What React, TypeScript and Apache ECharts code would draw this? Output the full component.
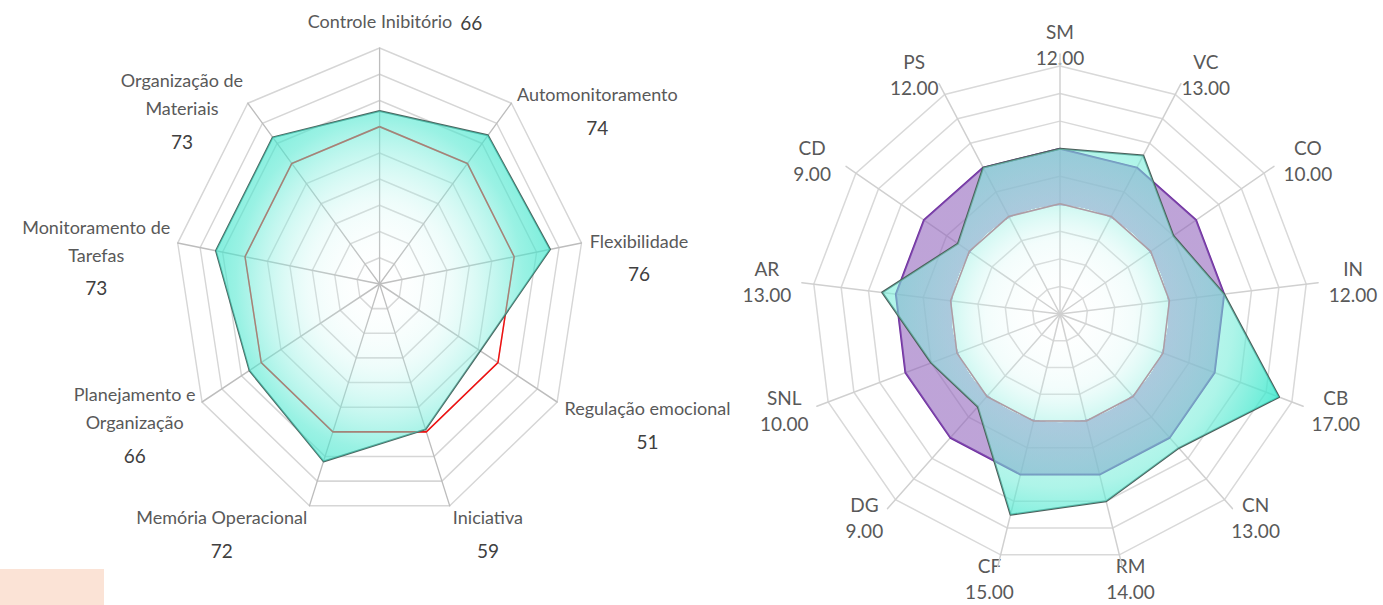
import React, { useEffect, useRef } from "react";
import * as echarts from "echarts";

// ---- Left chart: executive-function scales (T scores) ----
const efScales = [
  "Controle Inibitório",
  "Automonitoramento",
  "Flexibilidade",
  "Regulação emocional",
  "Iniciativa",
  "Memória Operacional",
  "Planejamento e\nOrganização",
  "Monitoramento de\nTarefas",
  "Organização de\nMateriais",
];
const efScores = [66, 74, 76, 51, 59, 72, 66, 73, 73];
const efCutoff = [60, 60, 60, 60, 60, 60, 60, 60, 60];
const efAxisMax = 90;
const efSplits = 9;

// ---- Right chart: subtest scaled scores ----
const subtests = ["SM", "VC", "CO", "IN", "CB", "CN", "RM", "CF", "DG", "SNL", "AR", "CD", "PS"];
const subtestScores = [12, 13, 10, 12, 17, 13, 14, 15, 9, 10, 13, 9, 12];
const upperLimit = [12, 12, 12, 12, 12, 12, 12, 12, 12, 12, 12, 12, 12];
const lowerLimit = [8, 8, 8, 8, 8, 8, 8, 8, 8, 8, 8, 8, 8];
const subtestAxisMax = 18;
const subtestSplits = 9;

// ---- layout ----
const PAGE_W = 1383;
const PAGE_H = 605;
const LEFT = { cx: 380, cy: 284, rx: 205, ry: 236 };
const RIGHT = { cx: 1060, cy: 314, r: 248, spoke: 260 };
const LEFT_W = 600; // width of the (horizontally scaled) left chart canvas
const LEFT_K = LEFT.rx / LEFT.ry;
const LEFT_X = LEFT.cx - (LEFT_K * LEFT_W) / 2;

const FONT = "Lato, 'Open Sans', sans-serif";
const NAME_COLOR = "#595959";
const VALUE_COLOR = "#404040";

// ECharts lays radar indicators out counter-clockwise; keep the first on top
// and reverse the rest so the order reads clockwise.
function clockwise<T>(arr: T[]): T[] {
  return [arr[0], ...arr.slice(1).reverse()];
}

let measureCtx: CanvasRenderingContext2D | null = null;
function textWidth(text: string, size: number): number {
  if (!measureCtx) measureCtx = document.createElement("canvas").getContext("2d");
  if (!measureCtx) return text.length * size * 0.5;
  measureCtx.font = `${size}px Lato`;
  return measureCtx.measureText(text).width;
}

function leftLabels(): any[] {
  const out: any[] = [];
  const n = efScales.length;
  const nameSize = 18;
  const valueSize = 19;
  efScales.forEach((name, i) => {
    const a = (i * 2 * Math.PI) / n;
    const s = Math.sin(a);
    const c = Math.cos(a);
    const ex = LEFT.cx + LEFT.rx * s;
    const ey = LEFT.cy - LEFT.ry * c;
    const lines = name.split("\n");
    const w = Math.max(...lines.map((l) => textWidth(l, nameSize)));
    const value = String(efScores[i]);
    if (Math.abs(s) < 1e-6) {
      out.push({
        type: "text",
        x: ex,
        y: ey - 27,
        style: { text: name, fontSize: nameSize, fontFamily: FONT, fill: NAME_COLOR, align: "center", verticalAlign: "middle" },
      });
      out.push({
        type: "text",
        x: ex + w / 2 + 8,
        y: ey - 26,
        style: { text: value, fontSize: valueSize, fontFamily: FONT, fill: VALUE_COLOR, align: "left", verticalAlign: "middle" },
      });
      return;
    }
    const dir = s > 0 ? 1 : -1;
    const bx = ex + dir * (8 * Math.abs(s) + w / 2);
    const ny = ey - 12 * c;
    out.push({
      type: "text",
      x: bx,
      y: ny,
      style: { text: name, fontSize: nameSize, fontFamily: FONT, fill: NAME_COLOR, align: "center", verticalAlign: "middle", lineHeight: 28 },
    });
    out.push({
      type: "text",
      x: bx,
      y: ny + (lines.length - 1) * 14 + 33,
      style: { text: value, fontSize: valueSize, fontFamily: FONT, fill: VALUE_COLOR, align: "center", verticalAlign: "middle" },
    });
  });
  return out;
}

function rightLabels(): any[] {
  const out: any[] = [];
  const n = subtests.length;
  subtests.forEach((name, i) => {
    const a = (i * 2 * Math.PI) / n;
    const s = Math.sin(a);
    const c = Math.cos(a);
    const reach = c > 0 ? 295 + 35 * (1 - Math.abs(s)) : 295;
    const lx = RIGHT.cx + reach * s;
    const ly = RIGHT.cy - c * (c > 0 ? 270 : 272);
    out.push({
      type: "text",
      x: lx,
      y: ly - 13,
      style: { text: name, fontSize: 19, fontFamily: FONT, fill: NAME_COLOR, align: "center", verticalAlign: "middle" },
    });
    out.push({
      type: "text",
      x: lx,
      y: ly + 13,
      style: { text: subtestScores[i].toFixed(2), fontSize: 19, fontFamily: FONT, fill: NAME_COLOR, align: "center", verticalAlign: "middle" },
    });
  });
  return out;
}

function leftOption(): any {
  const cx = LEFT_W / 2;
  const teal = new echarts.graphic.RadialGradient(
    cx,
    LEFT.cy,
    LEFT.ry,
    [
      { offset: 0, color: "rgba(255,255,255,0)" },
      { offset: 0.35, color: "rgba(190,245,238,0.25)" },
      { offset: 0.7, color: "rgba(80,232,208,0.58)" },
      { offset: 1, color: "rgba(50,228,200,0.8)" },
    ],
    true
  );
  return {
    animation: false,
    radar: {
      center: [cx, LEFT.cy],
      radius: LEFT.ry,
      startAngle: 90,
      shape: "polygon",
      splitNumber: efSplits,
      indicator: clockwise(efScales).map((name) => ({ name, min: 0, max: efAxisMax })),
      axisName: { show: false },
      axisTick: { show: false },
      axisLabel: { show: false },
      axisLine: { lineStyle: { color: "#BDBDBD", width: 1.5 } },
      splitLine: { lineStyle: { color: "#D6D6D6", width: 1.6 } },
      splitArea: { show: false },
    },
    series: [
      {
        type: "radar",
        symbol: "none",
        silent: true,
        data: [
          { name: "Corte", value: clockwise(efCutoff), lineStyle: { color: "#F01010", width: 1.7 } },
          {
            name: "Escore T",
            value: clockwise(efScores),
            lineStyle: { color: "#4A6660", width: 2 },
            areaStyle: { color: teal, opacity: 1 },
          },
        ],
      },
    ],
  };
}

function rightOption(): any {
  const { cx, cy, r } = RIGHT;
  const inner = (lowerLimit[0] / subtestAxisMax) * 0.985;
  const purple = new echarts.graphic.RadialGradient(
    cx,
    cy,
    r,
    [
      { offset: 0, color: "rgba(143,97,187,0)" },
      { offset: inner - 0.001, color: "rgba(143,97,187,0)" },
      { offset: inner, color: "rgba(143,97,187,0.58)" },
      { offset: 1, color: "rgba(143,97,187,0.58)" },
    ],
    true
  );
  const teal = new echarts.graphic.RadialGradient(
    cx,
    cy,
    r,
    [
      { offset: 0, color: "rgba(255,255,255,0)" },
      { offset: 0.3, color: "rgba(200,245,240,0.22)" },
      { offset: 0.45, color: "rgba(150,240,226,0.5)" },
      { offset: 0.7, color: "rgba(110,236,215,0.56)" },
      { offset: 1, color: "rgba(40,230,200,0.88)" },
    ],
    true
  );
  const indicator = clockwise(subtests).map((name) => ({ name, min: 0, max: subtestAxisMax }));
  return {
    animation: false,
    radar: [
      {
        center: [cx, cy],
        radius: r,
        startAngle: 90,
        shape: "polygon",
        splitNumber: subtestSplits,
        indicator,
        axisName: { show: false },
        axisTick: { show: false },
        axisLabel: { show: false },
        axisLine: { show: false },
        splitLine: { lineStyle: { color: "#D9D9D9", width: 1.5 } },
        splitArea: { show: false },
      },
      {
        center: [cx, cy],
        radius: RIGHT.spoke,
        startAngle: 90,
        shape: "polygon",
        indicator,
        axisName: { show: false },
        axisTick: { show: false },
        axisLabel: { show: false },
        axisLine: { lineStyle: { color: "#D0D0D0", width: 1.5 } },
        splitLine: { show: false },
        splitArea: { show: false },
      },
    ],
    series: [
      {
        type: "radar",
        radarIndex: 0,
        symbol: "none",
        silent: true,
        data: [
          {
            name: "Limite superior",
            value: clockwise(upperLimit),
            lineStyle: { color: "#7030A0", width: 2 },
            areaStyle: { color: purple, opacity: 1 },
          },
          { name: "Limite inferior", value: clockwise(lowerLimit), lineStyle: { color: "#C0506D", width: 1.5 } },
          {
            name: "Escore",
            value: clockwise(subtestScores),
            lineStyle: { color: "#4B5E5A", width: 2 },
            areaStyle: { color: teal, opacity: 1 },
          },
        ],
      },
    ],
    graphic: [
      {
        type: "rect",
        shape: { x: 0, y: 569, width: 104, height: 36 },
        style: { fill: "#FBE3D6" },
        silent: true,
      },
      ...leftLabels(),
      ...rightLabels(),
    ],
  };
}

export default function App() {
  const leftRef = useRef<HTMLDivElement>(null);
  const pageRef = useRef<HTMLDivElement>(null);

  useEffect(() => {
    if (!leftRef.current || !pageRef.current) return;
    const left = echarts.init(leftRef.current, null, { renderer: "svg", width: LEFT_W, height: PAGE_H });
    const page = echarts.init(pageRef.current, null, { renderer: "svg", width: PAGE_W, height: PAGE_H });
    left.setOption(leftOption());
    page.setOption(rightOption());
    return () => {
      left.dispose();
      page.dispose();
    };
  }, []);

  return (
    <div
      style={{
        position: "fixed",
        left: 0,
        top: 0,
        width: PAGE_W,
        height: PAGE_H,
        background: "#ffffff",
        overflow: "hidden",
      }}
    >
      <div
        ref={leftRef}
        style={{
          position: "absolute",
          left: LEFT_X,
          top: 0,
          width: LEFT_W,
          height: PAGE_H,
          transform: `scaleX(${LEFT_K})`,
          transformOrigin: "0 0",
        }}
      />
      <div ref={pageRef} style={{ position: "absolute", left: 0, top: 0, width: PAGE_W, height: PAGE_H }} />
    </div>
  );
}
